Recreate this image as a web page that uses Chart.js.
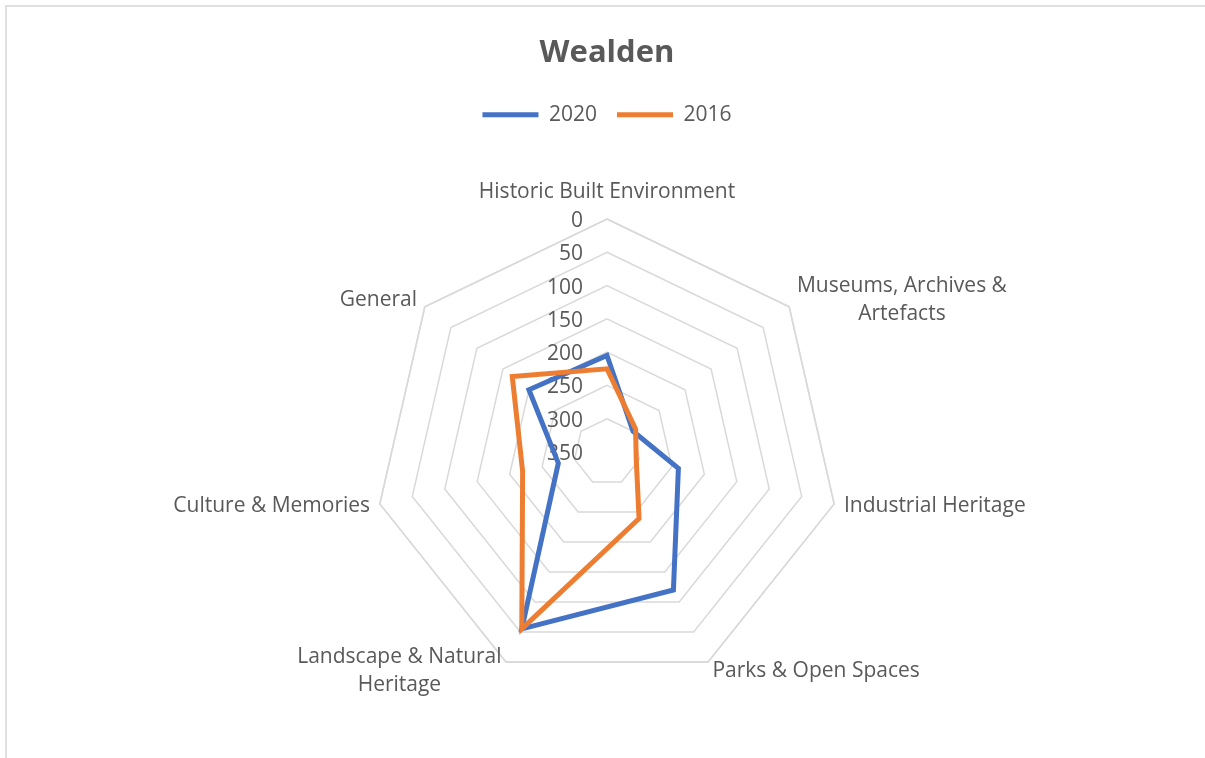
<!DOCTYPE html>
<html lang="en">
<head>
<meta charset="UTF-8">
<title>Wealden</title>
<script src="https://cdn.jsdelivr.net/npm/chart.js@4.4.0/dist/chart.umd.min.js"></script>
<style>
  body { margin: 0; background: #fff; overflow: hidden; }
  .frame { position: absolute; left: 5px; top: 5px; width: 1400px; height: 900px; border: 2px solid #e0e0e0; }
  canvas { position: absolute; left: 0; top: 0; }
</style>
</head>
<body>
<div class="frame"></div>
<canvas id="radar" width="1205" height="800"></canvas>
<script>
  // categories (multi-line labels as arrays)
  const categories = [
    ['Historic Built Environment'],
    ['Museums, Archives &', 'Artefacts'],
    ['Industrial Heritage'],
    ['Parks & Open Spaces'],
    ['Landscape & Natural', 'Heritage'],
    ['Culture & Memories'],
    ['General']
  ];
  const values2020 = [205, 300, 240, 120, 55, 275, 200];
  const values2016 = [225, 295, 305, 239, 55, 220, 168];
  const tickLabels = [0, 50, 100, 150, 200, 250, 300, 350];

  const textColor = '#595959';
  const gridColor = '#d9d9d9';

  Chart.defaults.font.family = 'Open Sans';

  // outer ring, tick labels and category labels drawn like Excel does
  const excelLabels = {
    id: 'excelLabels',
    beforeDatasetsDraw(chart) {
      const s = chart.scales.r;
      const ctx = chart.ctx;
      ctx.save();
      ctx.strokeStyle = gridColor;
      ctx.lineWidth = 1.5;
      ctx.beginPath();
      for (let i = 0; i < categories.length; i++) {
        const p = s.getPointPosition(i, s.drawingArea);
        if (i === 0) ctx.moveTo(p.x, p.y); else ctx.lineTo(p.x, p.y);
      }
      ctx.closePath();
      ctx.stroke();

      ctx.font = '21px "Open Sans"';
      ctx.fillStyle = textColor;
      ctx.textAlign = 'right';
      ctx.textBaseline = 'middle';
      tickLabels.forEach(v => {
        ctx.fillText(String(v), s.xCenter - 24, s.yCenter - s.getDistanceFromCenterForValue(v) + 2);
      });

      ctx.textAlign = 'center';
      const lh = 28;
      categories.forEach((lines, i) => {
        const p = s.getPointPosition(i, s.drawingArea + 10);
        const dx = p.x - s.xCenter;
        const w = Math.max(...lines.map(t => ctx.measureText(t).width));
        let cx, top;
        if (Math.abs(dx) < 1) {
          cx = p.x;
          top = p.y - lines.length * lh - 3;
        } else {
          cx = dx > 0 ? p.x + w / 2 : p.x - w / 2;
          top = p.y - lines.length * lh / 2;
        }
        lines.forEach((t, k) => ctx.fillText(t, cx, top + lh * k + lh / 2));
      });
      ctx.restore();
    }
  };

  new Chart('radar', {
    type: 'radar',
    data: {
      labels: categories,
      datasets: [{
        label: '2020',
        data: values2020,
        borderColor: '#4472C4',
        backgroundColor: '#4472C4',
        borderWidth: 5,
        borderCapStyle: 'round',
        pointRadius: 0,
        pointStyle: 'line',
        fill: false,
        order: 2
      }, {
        label: '2016',
        data: values2016,
        borderColor: '#ED7D31',
        backgroundColor: '#ED7D31',
        borderWidth: 5,
        borderCapStyle: 'round',
        pointRadius: 0,
        pointStyle: 'line',
        fill: false,
        order: 1
      }]
    },
    options: {
      responsive: false,
      animation: false,
      layout: { padding: { left: 374, right: 365, top: 0, bottom: 31 } },
      plugins: {
        title: {
          display: true,
          text: 'Wealden',
          color: textColor,
          font: { size: 31, weight: 'bold' },
          padding: { top: 35, bottom: 12 }
        },
        legend: {
          labels: {
            usePointStyle: true,
            pointStyleWidth: 56,
            padding: 20,
            color: textColor,
            font: { size: 21 },
            sort: (a, b) => a.datasetIndex - b.datasetIndex
          }
        },
        tooltip: { enabled: false }
      },
      scales: {
        r: {
          min: 0,
          max: 350,
          reverse: true,
          ticks: { display: false, stepSize: 50 },
          pointLabels: { display: false },
          angleLines: { display: false },
          grid: { color: gridColor, lineWidth: 1.5 }
        }
      }
    },
    plugins: [excelLabels]
  });
</script>
</body>
</html>
